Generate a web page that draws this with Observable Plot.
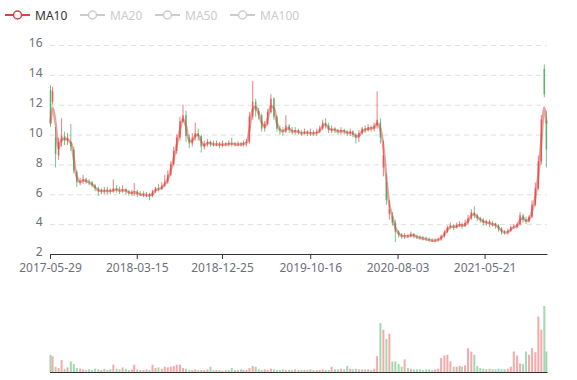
<!DOCTYPE html>
<html><head><meta charset="utf-8">
<script src="https://cdn.jsdelivr.net/npm/d3@7"></script>
<script src="https://cdn.jsdelivr.net/npm/@observablehq/plot@0.6"></script>
<style>
body{margin:0;background:#fff;font-family:"Noto Sans",sans-serif;}
#chart{position:relative;width:577px;height:380px;overflow:hidden;background:#fff;}
#legend{position:absolute;top:0;left:0;width:577px;height:30px;font-size:12px;}
.item{position:absolute;top:0;height:30px;display:flex;align-items:center;white-space:nowrap;}
.item svg{margin-right:5px;}
#main{position:absolute;top:30px;left:0;}
#vol{position:absolute;top:280px;left:0;}
</style></head>
<body><div id="chart"><div id="legend"></div><div id="main"></div><div id="vol"></div></div>
<script>
const dates = [
"2017-05-29","2017-06-05","2017-06-15","2017-06-25","2017-07-05","2017-07-15","2017-07-25","2017-08-05","2017-08-15","2017-08-25",
"2017-09-05","2017-09-15","2017-09-25","2017-10-05","2017-10-15","2017-10-25","2017-11-05","2017-11-15","2017-11-25","2017-12-05","2017-12-15","2017-12-25",
"2018-01-05","2018-01-15","2018-01-25","2018-02-05","2018-02-15","2018-02-25","2018-03-05","2018-03-15","2018-03-25","2018-04-05","2018-04-15","2018-04-25",
"2018-05-05","2018-05-15","2018-05-25","2018-06-05","2018-06-15","2018-06-25","2018-07-05","2018-07-15","2018-07-25","2018-08-05","2018-08-15","2018-08-25",
"2018-09-05","2018-09-15","2018-09-25","2018-10-05","2018-10-15","2018-10-25","2018-11-05","2018-11-15","2018-11-25","2018-12-05","2018-12-15","2018-12-25",
"2019-01-05","2019-01-15","2019-01-25","2019-02-05","2019-02-15","2019-02-25","2019-03-05","2019-03-15","2019-03-25","2019-04-05","2019-04-15","2019-04-25",
"2019-05-05","2019-05-15","2019-05-25","2019-06-05","2019-06-15","2019-06-25","2019-07-05","2019-07-15","2019-07-25","2019-08-05","2019-08-15","2019-08-25",
"2019-09-05","2019-09-15","2019-09-25","2019-10-05","2019-10-15","2019-10-25","2019-11-05","2019-11-15","2019-11-25","2019-12-05","2019-12-15","2019-12-25",
"2020-01-05","2020-01-15","2020-01-25","2020-02-05","2020-02-15","2020-02-25","2020-03-05","2020-03-15","2020-03-25","2020-04-05","2020-04-15","2020-04-25",
"2020-05-05","2020-05-15","2020-05-25","2020-06-05","2020-06-15","2020-06-25","2020-07-05","2020-07-15","2020-07-25","2020-08-05","2020-08-15","2020-08-25",
"2020-09-05","2020-09-15","2020-09-25","2020-10-05","2020-10-15","2020-10-25","2020-11-05","2020-11-15","2020-11-25","2020-12-05","2020-12-15","2020-12-25",
"2021-01-05","2021-01-15","2021-01-25","2021-02-05","2021-02-15","2021-02-25","2021-03-05","2021-03-15","2021-03-25","2021-04-05","2021-04-15","2021-04-25",
"2021-05-05","2021-05-15","2021-05-25","2021-06-05","2021-06-15","2021-06-25","2021-07-05","2021-07-15","2021-07-25","2021-08-05","2021-08-15","2021-08-25",
"2021-09-05","2021-09-15","2021-09-25","2021-10-05","2021-10-15","2021-10-25","2021-11-05","2021-11-15","2021-11-25","2021-12-05","2021-12-12"
];
const open = [
13.0,12.2,9.8,8.6,9.5,9.9,9.6,9.5,9.0,7.5,
6.8,6.9,7.0,6.85,6.8,6.6,6.4,6.2,6.3,6.2,6.3,6.2,
6.4,6.3,6.25,6.35,6.2,6.1,6.15,6.2,6.0,6.05,5.95,6.0,
5.9,6.2,6.4,6.35,6.6,6.8,7.3,8.0,8.9,9.8,10.9,11.3,
9.8,9.4,9.8,10.1,9.9,9.2,9.4,9.5,9.4,9.35,9.4,9.3,
9.4,9.35,9.45,9.4,9.35,9.4,9.35,9.45,9.5,11.2,12.2,11.6,
11.3,10.4,10.7,11.5,12.4,11.2,10.4,10.3,10.2,10.6,10.3,10.2,
10.3,10.15,10.1,10.2,10.1,10.15,10.1,10.2,10.4,10.8,10.6,10.3,
10.4,10.3,10.2,10.3,10.2,10.1,10.2,10.0,9.8,10.1,10.4,10.3,
10.5,10.4,10.6,10.8,7.8,6.8,4.7,4.5,4.1,3.5,3.3,3.2,
3.25,3.2,3.35,3.2,3.15,3.1,3.05,3.0,2.95,2.9,2.95,3.0,
3.2,3.5,3.8,3.9,3.8,3.95,4.0,3.9,4.1,4.4,4.8,4.6,
4.4,4.3,4.1,4.2,4.0,4.05,3.9,3.7,3.5,3.45,3.55,3.8,
3.85,4.0,4.6,4.3,4.2,4.5,5.3,6.4,8.2,14.4,10.9
];
const close = [
10.8,12.9,8.7,9.5,9.9,9.6,9.8,9.2,7.6,6.8,
6.9,7.0,6.85,6.8,6.6,6.4,6.2,6.3,6.2,6.3,6.2,6.4,
6.3,6.25,6.35,6.2,6.1,6.15,6.2,6.0,6.05,5.95,6.0,5.9,
6.2,6.4,6.35,6.6,6.8,7.3,8.0,8.9,9.8,10.9,11.3,9.9,
9.4,9.8,10.1,9.9,9.2,9.4,9.5,9.4,9.35,9.4,9.3,9.4,
9.35,9.45,9.4,9.35,9.4,9.35,9.45,9.5,11.2,12.2,11.6,11.3,
10.4,10.7,11.5,12.4,11.2,10.4,10.3,10.2,10.6,10.3,10.2,10.3,
10.15,10.1,10.2,10.1,10.15,10.1,10.2,10.4,10.8,10.6,10.3,10.4,
10.3,10.2,10.3,10.2,10.1,10.2,10.0,9.8,10.1,10.4,10.3,10.5,
10.4,10.6,11.0,9.8,8.6,5.6,5.0,4.1,3.5,3.3,3.2,3.25,
3.2,3.35,3.2,3.15,3.1,3.05,3.0,2.95,2.9,2.95,3.0,3.2,
3.5,3.8,3.9,3.8,3.95,4.0,3.9,4.1,4.4,4.8,4.6,4.4,
4.3,4.1,4.2,4.0,4.05,3.9,3.7,3.5,3.45,3.55,3.8,3.85,
4.0,4.6,4.3,4.2,4.5,5.3,6.4,8.2,11.0,12.7,9.0
];
const low = [
10.5,12.0,7.8,8.3,9.2,9.3,9.3,8.9,7.4,6.5,
6.6,6.7,6.7,6.6,6.5,6.2,5.9,6.0,6.0,6.0,6.0,6.1,
6.1,6.0,6.1,6.0,5.9,5.9,5.9,5.8,5.9,5.8,5.8,5.6,
5.8,6.1,6.2,6.3,6.5,6.7,7.2,7.9,8.7,9.6,10.8,9.5,
9.1,9.2,9.6,9.6,8.8,9.0,9.2,9.2,9.2,9.2,9.1,9.15,
9.2,9.2,9.2,9.2,9.2,9.2,9.2,9.2,9.4,11.0,11.2,11.0,
10.2,10.2,10.6,11.4,11.0,10.2,10.0,9.9,10.1,10.1,10.0,10.0,
10.0,9.9,10.0,9.9,9.9,9.9,9.9,10.1,10.3,10.4,10.1,10.1,
10.1,10.0,10.0,10.0,9.9,9.9,9.8,9.4,9.5,10.0,10.1,10.2,
10.2,10.2,10.4,9.4,7.2,5.3,4.3,3.9,2.8,3.1,3.0,3.0,
3.05,3.1,3.05,3.0,2.95,2.9,2.9,2.85,2.8,2.8,2.85,2.9,
3.1,3.4,3.7,3.6,3.7,3.8,3.7,3.8,4.0,4.3,4.4,4.2,
4.1,3.9,3.9,3.8,3.85,3.7,3.5,3.3,3.3,3.3,3.5,3.7,
3.7,3.9,4.1,4.0,4.1,4.4,5.2,6.3,8.0,12.5,7.8
];
const high = [
13.3,13.2,10.5,9.8,11.1,10.2,10.1,10.7,9.2,7.6,
7.1,7.3,7.1,7.0,6.9,6.7,6.5,6.4,6.5,6.5,6.4,7.0,
6.6,6.5,6.6,6.4,6.3,6.3,6.75,6.3,6.2,6.2,6.15,6.1,
6.3,6.5,6.7,6.8,7.3,7.6,8.2,9.2,10.0,11.2,12.0,11.6,
10.0,10.1,10.8,10.4,10.0,9.6,9.7,9.6,9.6,9.6,9.5,9.6,
9.5,9.6,9.8,9.5,9.55,9.5,9.6,9.7,11.5,13.6,12.4,11.8,
11.4,10.9,11.7,12.7,12.5,11.3,10.6,10.5,11.3,10.7,10.5,10.5,
10.4,10.3,10.4,10.3,10.4,10.3,10.4,10.6,11.0,11.1,10.8,10.6,
10.5,10.4,10.5,10.4,10.3,10.4,10.3,10.1,10.3,10.5,10.6,10.7,
10.6,10.8,12.9,11.1,9.6,7.4,5.6,4.8,4.3,3.6,3.4,3.4,
3.35,3.5,3.4,3.3,3.25,3.2,3.15,3.1,3.05,3.05,3.1,3.3,
3.6,3.9,4.1,4.0,4.1,4.2,4.1,4.3,4.6,5.0,5.2,4.7,
4.5,4.4,4.3,4.3,4.2,4.1,4.0,3.8,3.6,3.7,3.9,4.0,
4.1,4.8,4.7,4.5,4.6,5.6,6.8,8.6,11.3,14.7,11.6
];
const volume = [
26,24,8,6,18,5,7,16,12,6,
5,4,3,4,3,5,4,3,5,3,4,11,
5,4,7,5,3,4,11,4,3,3,4,3,
11,6,7,5,8,7,8,9,11,11,6,5,
3,3,4,3,3,3,4,8,3,3,3,2,
3,3,6,3,3,4,3,3,6,9,8,4,
3,4,3,5,4,3,3,4,3,3,3,4,
3,3,3,3,4,3,3,3,4,3,3,8,
4,4,5,4,9,5,4,5,4,4,4,4,
3,5,24,74,64,50,58,16,16,12,8,19,
6,5,4,4,4,3,4,4,3,4,5,21,
25,26,16,8,8,9,8,10,36,31,26,9,
6,5,4,5,4,4,5,4,4,5,8,31,
25,13,12,31,26,36,30,84,64,100,31
];
const seriesNames = ["MA10","MA20","MA50","MA100"];
const activeSeries = ["MA10"];
const xTickLabels = ["2017-05-29","2018-03-15","2018-12-25","2019-10-16","2020-08-03","2021-05-21"];
const yTicks = [2,4,6,8,10,12,14,16];

const UP = "#eb5454", DOWN = "#47b262", MA_COLOR = "#d6453d";
const parse = s => new Date(s + "T00:00:00Z");
const rows = dates.map((d, i) => ({
  date: parse(d), open: open[i], close: close[i], low: low[i], high: high[i],
  volume: volume[i], color: close[i] >= open[i] ? UP : DOWN
}));
const xDomain = [parse("2017-05-29"), parse("2021-12-14")];
const fmt = d3.utcFormat("%Y-%m-%d");
const font = {fontFamily: "'Noto Sans', sans-serif", fontSize: "12px", background: "transparent"};

const main = Plot.plot({
  width: 577, height: 250,
  marginLeft: 50, marginRight: 30.5, marginTop: 15, marginBottom: 26,
  style: font,
  x: {type: "utc", domain: xDomain},
  y: {domain: [2, 16]},
  color: {type: "identity"},
  marks: [
    Plot.gridY(yTicks, {stroke: "#e0e0e0", strokeOpacity: 1, strokeDasharray: "5,4"}),
    Plot.ruleX(rows, {x: "date", y1: "low", y2: "high", stroke: "color", strokeWidth: 1, strokeOpacity: 0.75}),
    Plot.ruleX(rows, {x: "date", y1: "open", y2: "close", stroke: "color", strokeWidth: 1.6, strokeOpacity: 0.8}),
    Plot.lineY(rows, Plot.windowY({k: 2, anchor: "end"}, {x: "date", y: "close", stroke: MA_COLOR, strokeOpacity: 0.5, strokeWidth: 2.5, curve: "catmull-rom"})),
    Plot.frame({anchor: "bottom", stroke: "#333"}),
    Plot.axisY(yTicks, {tickSize: 0, tickPadding: 8, dy: -2, label: null, fill: "#6e7079"}),
    Plot.axisX(xTickLabels.map(parse), {tickSize: 5, tickPadding: 4, tickFormat: fmt, label: null, stroke: "#333", fill: "#6e7079"})
  ]
});
document.getElementById("main").appendChild(main);

const vol = Plot.plot({
  width: 577, height: 100,
  marginLeft: 50, marginRight: 30.5, marginTop: 26, marginBottom: 8,
  style: font,
  x: {type: "utc", domain: xDomain, axis: null},
  y: {domain: [0, 100], axis: null},
  color: {type: "identity"},
  marks: [
    Plot.ruleX(rows, {x: "date", y1: 0, y2: "volume", stroke: "color", strokeWidth: 2, strokeOpacity: 0.5}),
    Plot.frame({anchor: "bottom", stroke: "#333"})
  ]
});
document.getElementById("vol").appendChild(vol);

// legend
const legend = document.getElementById("legend");
const lefts = [5, 80, 155, 230];
seriesNames.forEach((name, i) => {
  const on = activeSeries.includes(name);
  const c = on ? MA_COLOR : "#ccc";
  const item = document.createElement("div");
  item.className = "item";
  item.style.left = lefts[i] + "px";
  item.innerHTML = `<svg width="25" height="14"><line x1="0" x2="25" y1="7" y2="7" stroke="${c}" stroke-width="2"/><circle cx="12.5" cy="7" r="4" fill="#fff" stroke="${c}" stroke-width="1.5"/></svg><span style="color:${on ? "#333" : "#ccc"}">${name}</span>`;
  legend.appendChild(item);
});
</script>
</body></html>
